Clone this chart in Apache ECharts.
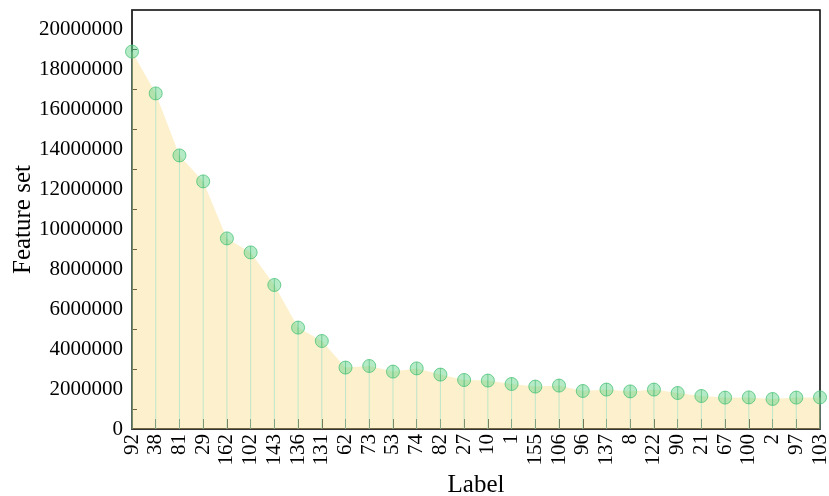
<!DOCTYPE html>
<html>
<head>
<meta charset="utf-8">
<script src="https://cdn.jsdelivr.net/npm/echarts@6/dist/echarts.min.js"></script>
<style>
  html, body { margin: 0; padding: 0; background: #fff; }
  #chart { width: 829px; height: 496px; }
</style>
</head>
<body>
<div id="chart"></div>
<script>
// Category labels along the x axis
const labels = ['92', '38', '81', '29', '162', '102', '143', '136', '131', '62',
  '73', '53', '74', '82', '27', '10', '1', '155', '106', '96',
  '137', '8', '122', '90', '21', '67', '100', '2', '97', '103'];

// Feature set size for each label
const featureSet = [18870000, 16780000, 13680000, 12380000, 9530000, 8830000, 7200000, 5070000, 4400000, 3070000,
  3150000, 2870000, 3030000, 2720000, 2450000, 2420000, 2250000, 2120000, 2170000, 1900000,
  1970000, 1880000, 1970000, 1800000, 1650000, 1570000, 1580000, 1500000, 1570000, 1580000];

// y axis tick labels
const yTicks = [0, 2000000, 4000000, 6000000, 8000000, 10000000, 12000000, 14000000, 16000000, 18000000, 20000000];

const FONT = 'Liberation Serif';
const chart = echarts.init(document.getElementById('chart'), null, { renderer: 'canvas' });

chart.setOption({
  animation: false,
  backgroundColor: '#fff',
  grid: {
    left: 132, right: 9, top: 10, bottom: 67,
    containLabel: false,
    outerBoundsMode: 'none',
    show: true, borderColor: '#000', borderWidth: 1.5, backgroundColor: 'transparent'
  },
  xAxis: {
    type: 'category',
    data: labels,
    boundaryGap: false,
    name: 'Label',
    nameLocation: 'middle',
    nameGap: 41,
    nameTextStyle: { fontFamily: FONT, fontSize: 25, color: '#000' },
    axisLine: { lineStyle: { color: '#333', width: 1.5 } },
    axisTick: { inside: true, length: 10, lineStyle: { color: '#333' } },
    axisLabel: { rotate: 90, fontFamily: FONT, fontSize: 21, color: '#000', margin: 5, interval: 0 },
    splitLine: { show: false }
  },
  yAxis: {
    type: 'value',
    min: 0,
    max: 20950000,
    interval: 2000000,
    name: 'Feature set',
    nameLocation: 'middle',
    nameGap: 96,
    nameMoveOverlap: false,
    nameTextStyle: { fontFamily: FONT, fontSize: 25, color: '#000' },
    axisLine: { show: true, lineStyle: { color: '#333', width: 1.5 } },
    axisTick: { inside: true, length: 10, lineStyle: { color: '#333' } },
    minorTick: { show: true, splitNumber: 2, length: 5, lineStyle: { color: '#333' } },
    axisLabel: {
      fontFamily: FONT, fontSize: 21, color: '#000', margin: 9,
      formatter: v => (yTicks.indexOf(v) >= 0 ? String(v) : '')
    },
    splitLine: { show: false }
  },
  series: [
    {
      type: 'line',
      data: featureSet,
      symbol: 'none',
      lineStyle: { width: 0 },
      areaStyle: { color: 'rgba(250, 208, 95, 0.45)' },
      z: 2
    },
    {
      type: 'bar',
      data: featureSet,
      barWidth: 1,
      itemStyle: { color: 'rgba(150, 225, 200, 0.6)' },
      z: 3
    },
    {
      type: 'scatter',
      data: featureSet,
      symbol: 'circle',
      symbolSize: 13,
      itemStyle: { color: 'rgba(105, 212, 140, 0.62)', borderColor: '#4cc47a', borderWidth: 1 },
      z: 4
    },
    {
      type: 'scatter',
      data: featureSet,
      symbol: 'rect',
      symbolSize: [1, 13],
      itemStyle: { color: 'rgba(60, 180, 110, 0.7)' },
      z: 5
    }
  ]
});
</script>
</body>
</html>
